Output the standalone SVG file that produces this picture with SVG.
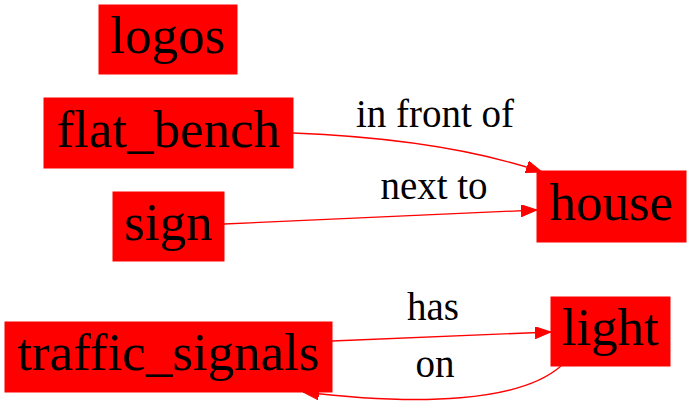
<svg xmlns="http://www.w3.org/2000/svg" width="691" height="407" viewBox="0 0 691 407">
<style>
.node rect{fill:#ff0000;stroke:#ff0000;stroke-width:1}
.node text{font-family:"Liberation Serif","Times New Roman",serif;font-size:53px;fill:#000;text-anchor:middle}
.edge path{fill:none;stroke:#ff0000;stroke-width:1.3}
.lbl{font-family:"Liberation Serif","Times New Roman",serif;font-size:39px;fill:#000;text-anchor:middle}
</style>
<defs>
<marker id="ah" viewBox="0 0 16 12" refX="16" refY="6" markerWidth="16" markerHeight="12" markerUnits="userSpaceOnUse" orient="auto">
<path d="M0,0 L16,6 L0,12 z" fill="#ff0000" stroke="#ff0000"/>
</marker>
</defs>
<rect width="691" height="407" fill="#ffffff"/>
<g id="logos" class="node"><rect x="99" y="5" width="138" height="69"/><text x="168" y="53">logos</text></g>
<g id="flat_bench" class="node"><rect x="44" y="98" width="249" height="70"/><text x="168.5" y="147">flat_bench</text></g>
<g id="sign" class="node"><rect x="113" y="192" width="111" height="69"/><text x="168.5" y="240">sign</text></g>
<g id="house" class="node"><rect x="537" y="171" width="149" height="71"/><text x="611.5" y="220">house</text></g>
<g id="traffic_signals" class="node"><rect x="5" y="322" width="327" height="70"/><text x="168.5" y="370">traffic_signals</text></g>
<g id="light" class="node"><rect x="551" y="297" width="119" height="69"/><text x="610.5" y="345">light</text></g>
<g id="edges" class="edge">
<path d="M293,133 C370,136 465,146 542,172" marker-end="url(#ah)"/>
<path d="M224,224 L537,210" marker-end="url(#ah)"/>
<path d="M332,341 L551,332" marker-end="url(#ah)"/>
<path d="M561,366 C520,402 420,406 303,392" marker-end="url(#ah)"/>
</g>
<g id="labels">
<text class="lbl" x="435" y="127">in front of</text>
<text class="lbl" x="434" y="199">next to</text>
<text class="lbl" x="433" y="320">has</text>
<text class="lbl" x="435" y="377">on</text>
</g>
</svg>
